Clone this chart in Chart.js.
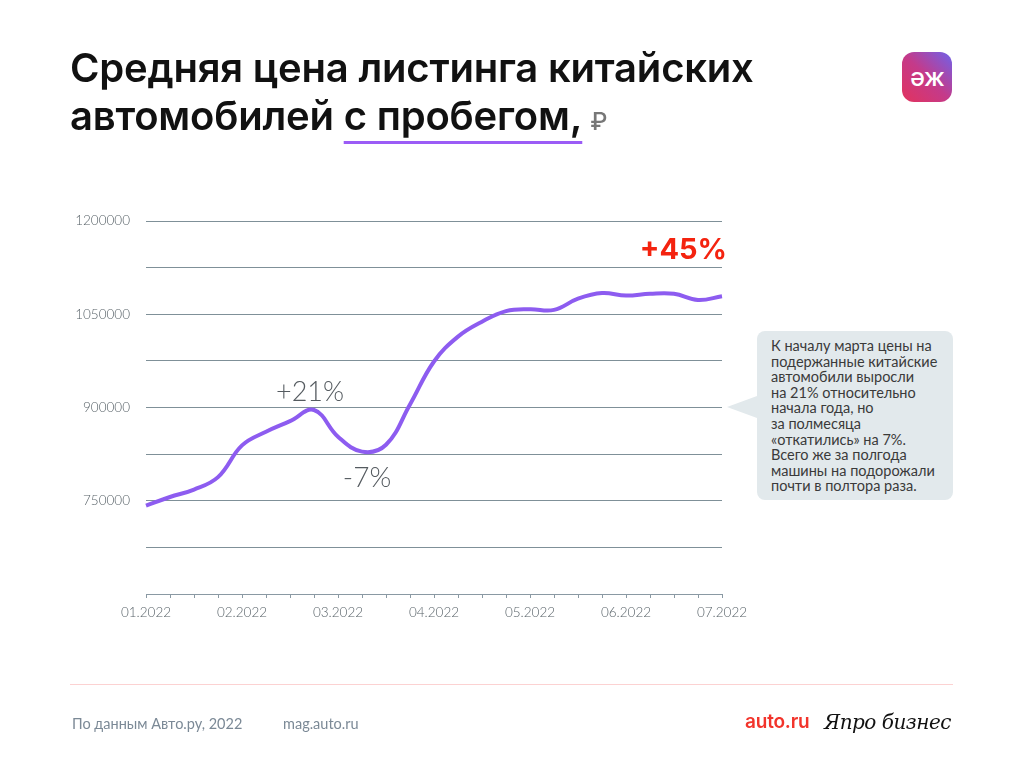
<!DOCTYPE html>
<html>
<head>
<meta charset="utf-8">
<script src="https://cdn.jsdelivr.net/npm/chart.js@4.4.1/dist/chart.umd.min.js"></script>
<style>
  html, body { margin: 0; padding: 0; background: #fff; }
  #wrap { position: relative; width: 1024px; height: 768px; overflow: hidden; background: #fff; font-family: Inter, "Noto Sans", sans-serif; }
  #chart { position: absolute; left: 0; top: 0; }
  #title { position: absolute; left: 70px; top: 44px; font-family: Inter, sans-serif; font-weight: 600; font-size: 40px; line-height: 48px; color: #111; letter-spacing: -0.2px; }
  #title .ul { text-decoration: underline; text-decoration-color: #9b5cf6; text-decoration-thickness: 3px; text-underline-offset: 11px; }
  #title .rub { font-size: 24px; color: #777; font-weight: 500; margin-left: 8px; }
  #logo { position: absolute; left: 902px; top: 52px; width: 50px; height: 50px; border-radius: 12px; background: linear-gradient(45deg, #e2335e 0%, #c43a8a 50%, #6f62ea 100%); color: #fff; font: 500 25px Inter, sans-serif; display: flex; align-items: center; justify-content: center; letter-spacing: -1px; }
  #note { position: absolute; left: 757px; top: 331px; width: 196px; height: 169px; background: #e2e9ec; border-radius: 8px; box-sizing: border-box; padding: 7px 6px 0 14px; font: 14.5px/15.6px Lato, "Noto Sans", sans-serif; color: #3a3a3a; white-space: nowrap; }
  #note:before { content: ""; position: absolute; left: -30px; top: 65px; border-style: solid; border-width: 11px 30px 11px 0; border-color: transparent #e2e9ec transparent transparent; }
  #footline { position: absolute; left: 70px; top: 684px; width: 883px; height: 1px; background: #fcd2d2; }
  .foot { position: absolute; top: 715px; font: 14.5px Lato, sans-serif; color: #7b8996; }
  #autoru { position: absolute; left: 745px; top: 710px; font: 600 19px Inter, sans-serif; color: #f2342b; letter-spacing: -0.2px; }
  #pro { position: absolute; left: 824px; top: 710px; font: italic 20px "DejaVu Serif", serif; color: #111; letter-spacing: -0.5px; }
</style>
</head>
<body>
<div id="wrap">
  <canvas id="chart" width="1024" height="768"></canvas>
  <div id="title">Средняя цена листинга китайских<br>автомобилей <span class="ul">с пробегом,</span><span class="rub">₽</span></div>
  <div id="logo">əж</div>
  <div id="note">К началу марта цены на<br>подержанные китайские<br>автомобили выросли<br>на 21% относительно<br>начала года, но<br>за полмесяца<br>«откатились» на 7%.<br>Всего же за полгода<br>машины на подорожали<br>почти в полтора раза.</div>
  <div id="footline"></div>
  <div class="foot" style="left:72px">По данным Авто.ру, 2022</div>
  <div class="foot" style="left:283px">mag.auto.ru</div>
  <div id="autoru">auto.ru</div>
  <div id="pro">Япро бизнес</div>
</div>
<script>
// Weekly observations, Jan–Jul 2022 (label shown at the start of each month)
const categories = [
  '01.2022','','','',
  '02.2022','','','',
  '03.2022','','','',
  '04.2022','','','',
  '05.2022','','','',
  '06.2022','','','',
  '07.2022'
];
const prices = [
  742000, 756000, 768000, 788000,
  839000, 861000, 878000, 896000,
  853000, 829000, 840000, 905000,
  974000, 1014000, 1038000, 1055000,
  1058000, 1057000, 1075000, 1084000,
  1080000, 1083000, 1083000, 1073000,
  1079000
];
const yTickLabels = ['750000', '900000', '1050000', '1200000'];
const yMin = 600000, yMax = 1200000, yStep = 75000;
// Callouts: [index into prices, text]
const callouts = [
  { index: 7, text: '+21%' },
  { index: 9, text: '-7%' },
  { index: 24, text: '+45%' }
];

const calloutPlugin = {
  id: 'callouts',
  afterDatasetsDraw(chart) {
    const ctx = chart.ctx;
    const meta = chart.getDatasetMeta(0);
    ctx.save();
    callouts.forEach((c, i) => {
      const p = meta.data[c.index];
      ctx.textBaseline = 'alphabetic';
      if (i === 0) {
        ctx.font = '300 27px Lato, sans-serif';
        ctx.fillStyle = '#555b60';
        ctx.textAlign = 'center';
        ctx.fillText(c.text, p.x - 4, p.y - 9);
      } else if (i === 1) {
        ctx.font = '300 28px Lato, sans-serif';
        ctx.fillStyle = '#555b60';
        ctx.textAlign = 'center';
        ctx.fillText(c.text, p.x + 5, p.y + 35);
      } else {
        ctx.font = 'bold 29px Inter, sans-serif';
        ctx.fillStyle = '#f4230f';
        ctx.textAlign = 'right';
        ctx.fillText(c.text, p.x + 5, p.y - 37);
      }
    });
    ctx.restore();
  }
};

new Chart(document.getElementById('chart'), {
  type: 'line',
  data: {
    labels: categories,
    datasets: [{
      data: prices,
      borderColor: '#8d5cf0',
      borderWidth: 4,
      pointRadius: 0,
      tension: 0.4,
      fill: false
    }]
  },
  options: {
    responsive: false,
    animation: false,
    events: [],
    layout: { padding: { left: 60, right: 302, top: 221, bottom: 140 } },
    plugins: { legend: { display: false }, tooltip: { enabled: false } },
    scales: {
      x: {
        grid: { drawOnChartArea: false, drawTicks: true, tickLength: 4, color: '#8a99a3' },
        border: { display: true, color: '#8a99a3', width: 1 },
        ticks: {
          autoSkip: false, maxRotation: 0, padding: 7,
          color: '#596369', font: { family: 'Lato', size: 13.5, weight: '300' },
          callback: (v, i) => categories[i]
        },
        afterFit: (s) => { s.height = 34; }
      },
      y: {
        min: yMin, max: yMax,
        grid: { color: '#7f9098', lineWidth: 1, drawTicks: false },
        border: { display: false },
        ticks: {
          stepSize: yStep, padding: 16,
          color: '#596369', font: { family: 'Lato', size: 13.5, weight: '300' },
          callback: (v) => yTickLabels.includes(String(v)) ? String(v) : ''
        },
        afterFit: (s) => { s.width = 86; }
      }
    }
  },
  plugins: [calloutPlugin]
});
</script>
</body>
</html>
